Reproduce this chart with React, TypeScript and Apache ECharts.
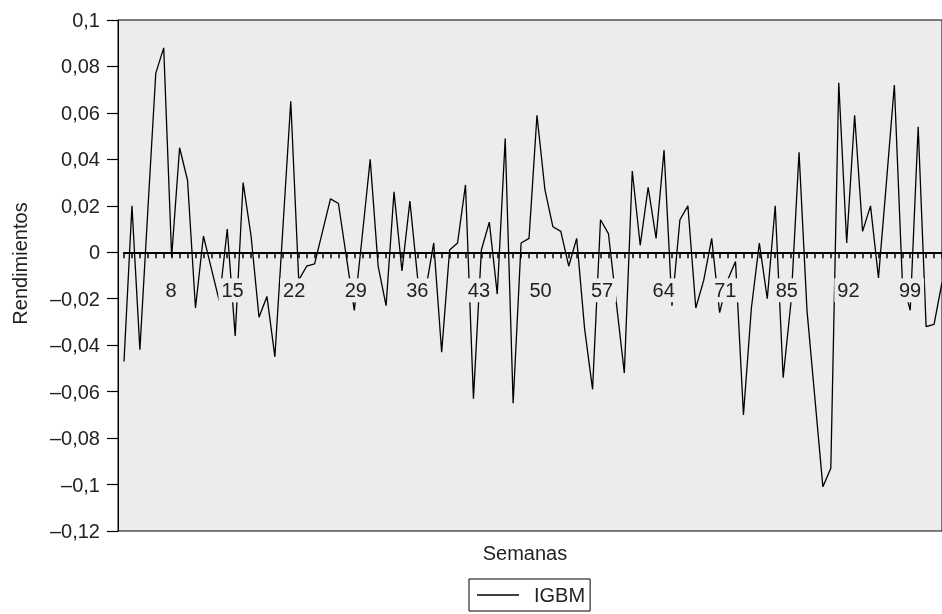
import React, { useEffect, useRef } from "react";
import * as echarts from "echarts";

// Weekly returns of the IGBM index
const returns: number[] = [
  -0.047, 0.020, -0.042, 0.018, 0.077, 0.088, -0.002, 0.045, 0.031, -0.024,
  0.007, -0.007, -0.021, 0.010, -0.036, 0.030, 0.007, -0.028, -0.019, -0.045,
  0.010, 0.065, -0.012, -0.006, -0.005, 0.009, 0.023, 0.021, -0.002, -0.025,
  0.007, 0.040, -0.006, -0.023, 0.026, -0.008, 0.022, -0.012, -0.016, 0.004,
  -0.043, 0.001, 0.004, 0.029, -0.063, 0.001, 0.013, -0.018, 0.049, -0.065,
  0.004, 0.006, 0.059, 0.027, 0.011, 0.009, -0.006, 0.006, -0.033, -0.059,
  0.014, 0.008, -0.022, -0.052, 0.035, 0.003, 0.028, 0.006, 0.044, -0.023,
  0.014, 0.020, -0.024, -0.012, 0.006, -0.026, -0.012, -0.004, -0.070, -0.024,
  0.004, -0.020, 0.020, -0.054, -0.021, 0.043, -0.025, -0.063, -0.101, -0.093,
  0.073, 0.004, 0.059, 0.009, 0.020, -0.011, 0.030, 0.072, -0.012, -0.025,
  0.054, -0.032, -0.031, -0.013,
];

// Week categories (one per observation)
const weeks: string[] = returns.map((_, i) => String(i + 1));

// Labels printed under the zero line
const xTickLabels: string[] = ["8", "15", "22", "29", "36", "43", "50", "57", "64", "71", "85", "92", "99"];

// Y axis ticks and their printed labels
const yTicks: number[] = [-0.12, -0.1, -0.08, -0.06, -0.04, -0.02, 0, 0.02, 0.04, 0.06, 0.08, 0.1];
const yTickLabels: string[] = ["–0,12", "–0,1", "–0,08", "–0,06", "–0,04", "–0,02", "0", "0,02", "0,04", "0,06", "0,08", "0,1"];

const FONT = "'Liberation Sans', Arial, Helvetica, sans-serif";
const TEXT = "#222";
const BG = "#ececec";

export default function App() {
  const ref = useRef<HTMLDivElement>(null);
  useEffect(() => {
    const chart = echarts.init(ref.current!, null, { renderer: "svg" });
    chart.setOption({
      animation: false,
      textStyle: { fontFamily: FONT },
      grid: [
        { left: 118, top: 20, right: -4, height: 511, show: true, backgroundColor: BG, borderColor: "#000", borderWidth: 1 },
        { left: 124, top: 20, right: -4, height: 511 },
        // label strip: its bottom edge sits on the zero line of the plot
        { left: 171, top: 20, width: 739, height: 232.3 },
      ],
      xAxis: [
        {
          gridIndex: 0,
          type: "category",
          data: [""],
          axisLine: { show: false, onZero: false },
          axisTick: { show: false },
          axisLabel: { show: false },
          name: "Semanas",
          nameLocation: "middle",
          nameGap: 12,
          nameTextStyle: { fontSize: 20, color: TEXT, padding: [0, 10, 0, 0] },
        },
        {
          gridIndex: 1,
          type: "category",
          data: weeks,
          boundaryGap: false,
          axisLine: { onZero: true, lineStyle: { color: "#000", width: 1.8 } },
          axisTick: { interval: 0, length: 6, lineStyle: { color: "#000", width: 1.5 } },
          axisLabel: { show: false },
          splitLine: { show: false },
        },
        {
          gridIndex: 2,
          type: "category",
          data: xTickLabels,
          boundaryGap: false,
          position: "bottom",
          z: 10,
          axisLine: { show: false, onZero: false },
          axisTick: { show: false },
          axisLabel: {
            interval: 0,
            margin: 26,
            fontSize: 20,
            lineHeight: 20,
            color: TEXT,
            backgroundColor: BG,
            padding: [2, 3],
          },
          splitLine: { show: false },
        },
      ],
      yAxis: [
        {
          gridIndex: 0,
          type: "value",
          min: -0.12,
          max: 0.1,
          interval: 0.02,
          axisLine: { show: true, lineStyle: { color: "#000", width: 1 } },
          axisTick: { show: true, length: 11, lineStyle: { color: "#000", width: 1.2 } },
          axisLabel: {
            margin: 18,
            fontSize: 20,
            color: TEXT,
            formatter: (v: number) => {
              const i = yTicks.findIndex((t) => Math.abs(t - v) < 1e-9);
              return i >= 0 ? yTickLabels[i] : "";
            },
          },
          splitLine: { show: false },
          name: "Rendimientos",
          nameLocation: "middle",
          nameGap: 88,
          nameTextStyle: { fontSize: 20, color: TEXT, padding: [0, 0, 0, 24] },
        },
        { gridIndex: 1, type: "value", min: -0.12, max: 0.1, show: false },
        { gridIndex: 2, type: "value", min: 0, max: 0.1, show: false },
      ],
      legend: {
        data: [{ name: "IGBM", icon: "rect" }],
        left: 469,
        top: 579,
        padding: [6, 5, 6, 8],
        borderColor: "#000",
        borderWidth: 1,
        itemWidth: 42,
        itemHeight: 1.5,
        itemStyle: { color: "#000" },
        textStyle: { fontSize: 20, lineHeight: 20, color: TEXT, padding: [0, 0, 0, 10] },
      },
      series: [
        {
          type: "line",
          name: "IGBM",
          xAxisIndex: 1,
          yAxisIndex: 1,
          data: returns,
          symbol: "none",
          lineStyle: { color: "#000", width: 1.3 },
          itemStyle: { color: "#000" },
          z: 3,
        },
      ],
    });
    return () => chart.dispose();
  }, []);
  return <div ref={ref} style={{ position: "fixed", left: 0, top: 0, width: 942, height: 614 }} />;
}
